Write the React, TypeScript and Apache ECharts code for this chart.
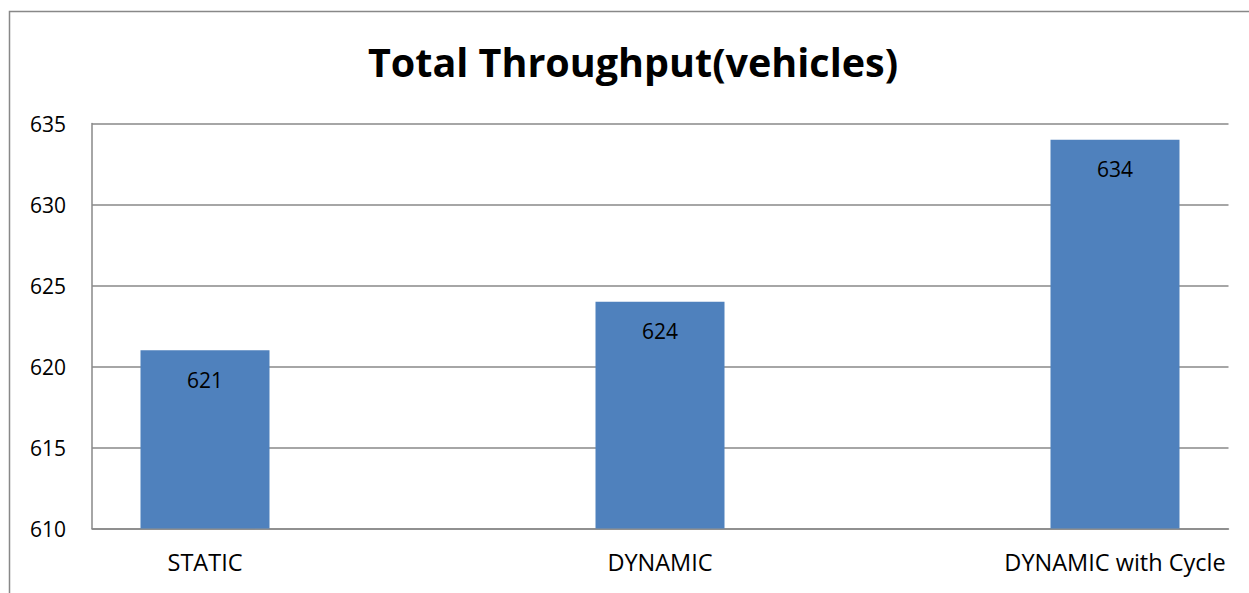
import React, { useEffect, useRef } from "react";
import * as echarts from "echarts";

const categories = ["STATIC", "DYNAMIC", "DYNAMIC with Cycle"];
const throughput = [621, 624, 634];
const yTicks = { min: 610, max: 635, interval: 5 };
const titleText = "Total Throughput(vehicles)";

export default function App() {
  const ref = useRef<HTMLDivElement>(null);
  useEffect(() => {
    document.body.style.margin = "0";
    const chart = echarts.init(ref.current!, null, { renderer: "svg" });
    const font = "'Open Sans', Calibri, sans-serif";
    const gray = "#888888";
    chart.setOption({
      animation: false,
      backgroundColor: "#ffffff",
      graphic: [
        {
          type: "rect",
          shape: { x: 9.5, y: 11.5, width: 1400, height: 800 },
          style: { fill: "none", stroke: gray, lineWidth: 1.5 },
          silent: true,
          z: 0,
        },
        {
          type: "text",
          x: 633,
          y: 62,
          style: {
            text: titleText,
            font: `bold 39.5px ${font}`,
            fill: "#000",
            textAlign: "center",
            textVerticalAlign: "middle",
          },
        },
      ],
      grid: [
        { left: 92, right: 20.5, top: 123.5, bottom: 64.5, outerBoundsMode: "none" },
        { left: -22.5, width: 1365, top: 123.5, bottom: 64.5, outerBoundsMode: "none" },
      ],
      xAxis: [
        {
          type: "category",
          gridIndex: 0,
          data: categories,
          axisLine: { show: true, lineStyle: { color: gray, width: 1.5 } },
          axisTick: { show: false },
          axisLabel: { show: false },
          splitLine: { show: false },
        },
        {
          type: "category",
          gridIndex: 1,
          data: categories,
          axisLine: { show: false },
          axisTick: { show: false },
          axisLabel: {
            show: true,
            color: "#000",
            fontFamily: font,
            fontSize: 23.5,
            margin: 21,
          },
        },
      ],
      yAxis: [
        {
          type: "value",
          gridIndex: 0,
          min: yTicks.min,
          max: yTicks.max,
          interval: yTicks.interval,
          axisLine: { show: true, lineStyle: { color: gray, width: 1.5 } },
          axisTick: { show: false },
          axisLabel: {
            color: "#000",
            fontFamily: font,
            fontSize: 21,
            margin: 26,
          },
          splitLine: { show: true, lineStyle: { color: gray, width: 1.5 } },
        },
        {
          type: "value",
          gridIndex: 1,
          min: yTicks.min,
          max: yTicks.max,
          interval: yTicks.interval,
          show: false,
          splitLine: { show: false },
        },
      ],
      series: [
        {
          type: "bar",
          xAxisIndex: 1,
          yAxisIndex: 1,
          data: throughput,
          barWidth: 129,
          itemStyle: { color: "#4F81BD" },
          label: {
            show: true,
            position: "insideTop",
            distance: 19,
            color: "#000",
            fontFamily: font,
            fontSize: 21,
          },
          z: 3,
        },
      ],
    });
    return () => chart.dispose();
  }, []);
  return <div ref={ref} style={{ width: 1249, height: 593 }} />;
}
